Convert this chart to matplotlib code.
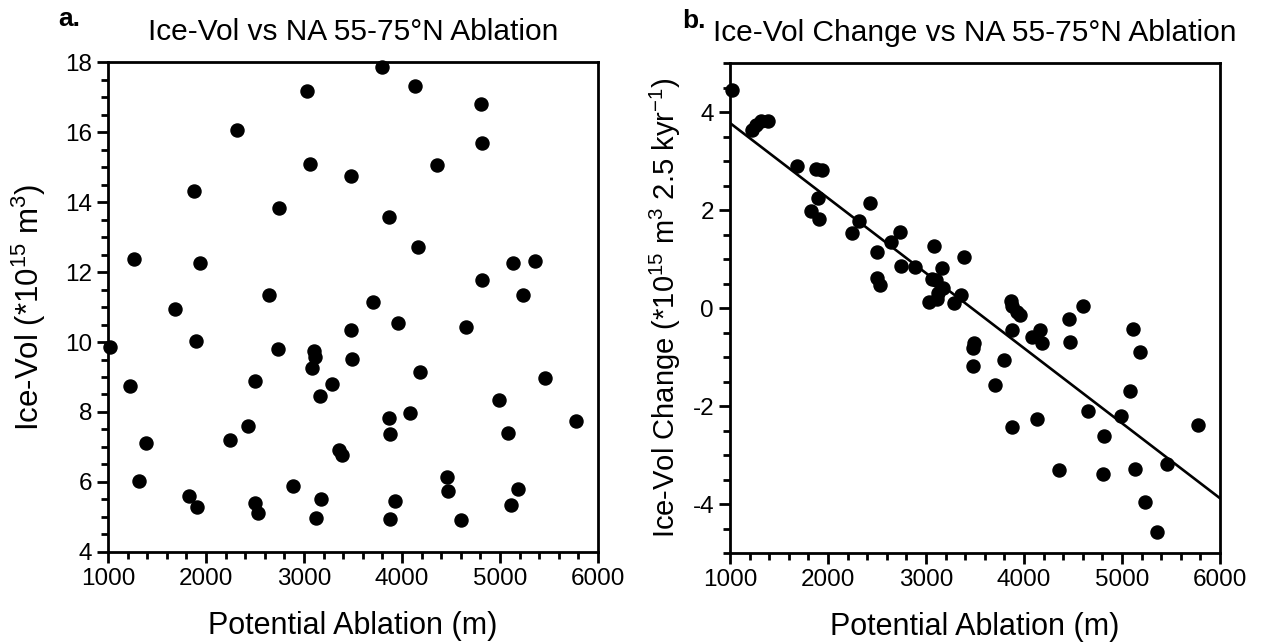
from matplotlib import pyplot as plt
from matplotlib.ticker import MultipleLocator
import numpy as np

plt.rcParams['font.family'] = ['Liberation Sans', 'DejaVu Sans']
plt.rcParams['mathtext.fontset'] = 'custom'
plt.rcParams['mathtext.rm'] = 'Liberation Sans'
plt.rcParams['mathtext.it'] = 'Liberation Sans:italic'
plt.rcParams['axes.unicode_minus'] = False

# panel a: potential ablation (m) vs ice volume (*10^15 m^3)
abl_a = [1020, 1224, 1265, 1316, 1388, 1684, 1827, 1878, 1898, 1908, 1939,
         2245, 2316, 2429, 2500, 2500, 2531, 2643, 2735, 2745, 2888,
         3031, 3061, 3082, 3102, 3112, 3122, 3163, 3173, 3286, 3357, 3388,
         3480, 3480, 3490, 3704, 3796,
         3867, 3867, 3878, 3878, 3929, 3959,
         4082, 4133, 4163, 4184, 4357, 4459, 4469, 4602, 4653,
         4806, 4816, 4816, 4990,
         5082, 5112, 5133, 5184, 5235, 5357, 5459, 5776]
vol_a = [9.86, 8.74, 12.37, 6.03, 7.11, 10.94, 5.6, 14.31, 10.03, 5.29, 12.26,
         7.2, 16.06, 7.6, 8.89, 5.4, 5.11, 11.34, 9.8, 13.83, 5.89,
         17.17, 15.09, 9.26, 9.74, 9.57, 4.97, 8.46, 5.51, 8.8, 6.91, 6.77,
         14.74, 10.34, 9.51, 11.14, 17.86,
         13.57, 7.83, 7.37, 4.94, 5.46, 10.54,
         7.97, 17.31, 12.71, 9.14, 15.06, 6.14, 5.74, 4.91, 10.43,
         16.8, 15.69, 11.77, 8.34,
         7.4, 5.34, 12.26, 5.8, 11.34, 12.31, 8.97, 7.74]

# panel b: potential ablation (m) vs ice volume change (*10^15 m^3 2.5 kyr^-1)
abl_b = [1020, 1224, 1265, 1316, 1388, 1684, 1827, 1878, 1898, 1908, 1939,
         2245, 2316, 2429, 2500, 2500, 2531, 2643, 2735, 2745, 2888,
         3031, 3061, 3082, 3102, 3112, 3122, 3163, 3173, 3286, 3357, 3388,
         3477, 3490, 3477, 3704, 3796,
         3867, 3878, 3929, 3959, 3880, 3878,
         4082, 4133, 4163, 4184, 4357, 4459, 4469, 4602, 4653,
         4816, 4806, 4990,
         5082, 5115, 5133, 5184, 5235, 5357, 5459, 5776]
chg_b = [4.46, 3.63, 3.73, 3.82, 3.82, 2.90, 1.98, 2.83, 2.24, 1.81, 2.82,
         1.54, 1.78, 2.15, 1.14, 0.61, 0.47, 1.34, 1.56, 0.86, 0.84,
         0.13, 0.59, 1.27, 0.57, 0.18, 0.30, 0.81, 0.40, 0.10, 0.27, 1.04,
         -0.82, -0.71, -1.18, -1.57, -1.06,
         0.15, 0.05, -0.08, -0.14, -0.45, -2.42,
         -0.59, -2.27, -0.45, -0.71, -3.31, -0.22, -0.69, 0.04, -2.10,
         -2.61, -3.39, -2.20,
         -1.69, -0.43, -3.29, -0.90, -3.95, -4.58, -3.19, -2.39]

xticks = [1000, 2000, 3000, 4000, 5000, 6000]


def style(ax, ymaj, ymin):
    for s in ax.spines.values():
        s.set_linewidth(2.0)
    ax.set_xlim(1000, 6000)
    ax.set_xticks(xticks)
    ax.xaxis.set_minor_locator(MultipleLocator(200))
    ax.yaxis.set_major_locator(MultipleLocator(ymaj))
    ax.yaxis.set_minor_locator(MultipleLocator(ymin))
    ax.tick_params(which='both', direction='out', width=2.0, labelsize=17.5,
                   top=False, right=False)
    ax.tick_params(which='major', length=8)
    ax.tick_params(which='minor', length=5)
    ax.set_xlabel('Potential Ablation (m)', fontsize=22, labelpad=15)


fig = plt.figure(figsize=(12.61, 6.42), dpi=100)

ax1 = fig.add_axes([0.0856, 0.1402, 0.3886, 0.7632])
ax1.plot(abl_a, vol_a, 'o', color='black', markersize=9.4, clip_on=False)
ax1.set_ylim(4, 18)
style(ax1, 2, 0.5)
ax1.set_ylabel(r'Ice-Vol (*10$^{15}$ m$^{3}$)', fontsize=22.5, labelpad=12)
ax1.set_title('Ice-Vol vs NA 55-75°N Ablation', fontsize=21.5, pad=16)

ax2 = fig.add_axes([0.5789, 0.1386, 0.3886, 0.7632])
ax2.plot(abl_b, chg_b, 'o', color='black', markersize=9.4, clip_on=False)
ax2.set_ylim(-5, 5)
style(ax2, 2, 0.5)
# least squares fit across the plotted range
k, b = np.polyfit(abl_b, chg_b, 1)
xl = np.array(ax2.get_xlim())
ax2.plot(xl, k * xl + b, color='black', linewidth=1.9)
ax2.set_xlim(1000, 6000)
ax2.set_ylabel(r'Ice-Vol Change (*10$^{15}$ m$^{3}$ 2.5 kyr$^{-1}$)', fontsize=21, labelpad=7)
ax2.set_title('Ice-Vol Change vs NA 55-75°N Ablation', fontsize=21.5, pad=16)

fig.text(0.046, 0.971, 'a.', fontsize=19, fontweight='bold', va='center')
fig.text(0.541, 0.968, 'b.', fontsize=19, fontweight='bold', va='center')

fig.savefig('out.png', dpi=100)
